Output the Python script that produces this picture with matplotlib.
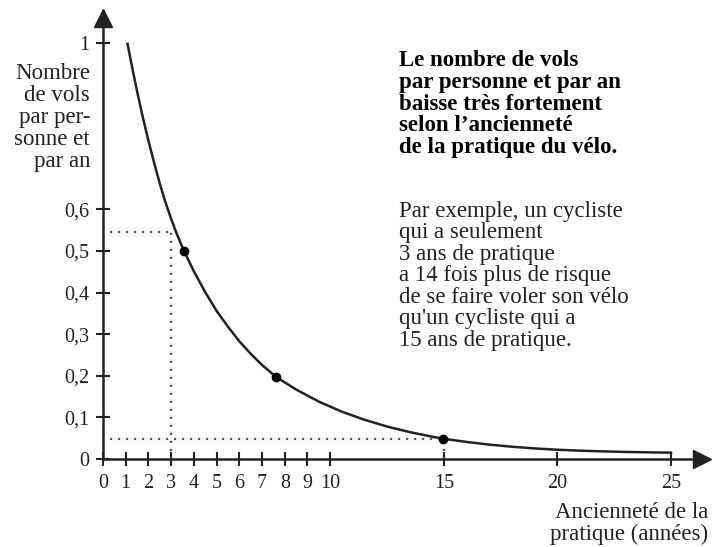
import matplotlib
matplotlib.use("Agg")
import matplotlib.pyplot as plt

plt.rcParams['font.family'] = ['Liberation Serif', 'DejaVu Serif']

# courbe (ancienneté en années, vols par personne et par an)
annees = [1.08, 1.25, 1.5, 1.75, 2.0, 2.25, 2.5, 2.75, 3.0, 3.25, 3.54, 4.0, 4.5, 5.0,
          5.5, 6.0, 6.5, 7.0, 7.6, 8.5, 9.5, 10.5, 11.5, 12.5, 13.5, 14.5, 15.0,
          16.0, 17.0, 18.0, 19.0, 20.0, 21.0, 22.0, 23.0, 24.0, 25.0]
vols = [0.998, 0.950, 0.884, 0.822, 0.765, 0.712, 0.662, 0.617, 0.577, 0.541, 0.503, 0.451, 0.401, 0.356,
        0.318, 0.283, 0.253, 0.226, 0.198, 0.167, 0.138, 0.114, 0.0945, 0.078, 0.0647, 0.0535, 0.0486,
        0.041, 0.0346, 0.0295, 0.0254, 0.0223, 0.020, 0.0183, 0.0170, 0.0160, 0.0152]

# points marqués
pts_x = [3.55, 7.6, 14.95]
pts_y = [0.50, 0.198, 0.047]

# repères en pointillé
repere_x = [3, 15]
repere_y = [0.545, 0.048]

xticks = [0, 1, 2, 3, 4, 5, 6, 7, 8, 9, 10, 15, 20, 25]
yticks = [0, 0.1, 0.2, 0.3, 0.4, 0.5, 0.6, 1]
ytick_labels = ['0', '0,1', '0,2', '0,3', '0,4', '0,5', '0,6', '1']

fig = plt.figure(figsize=(7.15, 5.47), dpi=100)
# origine à (103, 459) px, 22.72 px par année, 416 px par unité de vols
ax = fig.add_axes([103 / 715, 88 / 547, 599 / 715, 441 / 547])
ax.set_xlim(0, 599 / 22.72)
ax.set_ylim(0, 441 / 416)

ink = '#222222'

for rx, ry in zip(repere_x, repere_y):
    ax.plot([0.3, rx], [ry, ry], linestyle=(0, (1, 2.6)), color='#555555', lw=1.6)
    ax.plot([rx, rx], [0, ry], linestyle=(0, (1, 2.6)), color='#555555', lw=1.6)

ax.plot(annees, vols, color=ink, lw=1.8, solid_joinstyle='round')
ax.plot(pts_x, pts_y, 'o', color='black', ms=6)

# axes avec flèches
for s in ['top', 'right']:
    ax.spines[s].set_visible(False)
for s in ['left', 'bottom']:
    ax.spines[s].set_linewidth(1.8)
    ax.spines[s].set_color(ink)
ax.plot(1, 0, '>', color=ink, ms=13, transform=ax.transAxes, clip_on=False)
ax.plot(0, 1, '^', color=ink, ms=13, transform=ax.transAxes, clip_on=False)

ax.set_xticks(xticks)
ax.set_xticklabels([str(t) for t in xticks])
ax.set_yticks(yticks)
ax.set_yticklabels(ytick_labels)
ax.tick_params(direction='inout', length=10, width=1.5, color=ink,
               labelsize=14.5, labelcolor=ink)
ax.tick_params(axis='x', pad=6)
ax.tick_params(axis='y', pad=5)

fig.text(90 / 715, 1 - 63 / 547, "Nombre\nde vols\npar per-\nsonne et\npar an",
         ha='right', va='top', fontsize=16.5, color=ink, linespacing=1.07)

fig.text(708 / 715, 1 - 502 / 547, "Ancienneté de la\npratique (années)",
         ha='right', va='top', fontsize=16.5, color=ink, linespacing=1.02)

fig.text(399 / 715, 1 - 50 / 547,
         "Le nombre de vols\npar personne et par an\nbaisse très fortement\n"
         "selon l’ancienneté\nde la pratique du vélo.",
         ha='left', va='top', fontsize=16.5, fontweight='bold', color='black', linespacing=1.05)

fig.text(399 / 715, 1 - 201 / 547,
         "Par exemple, un cycliste\nqui a seulement\n3 ans de pratique\n"
         "a 14 fois plus de risque\nde se faire voler son vélo\nqu'un cycliste qui a\n"
         "15 ans de pratique.",
         ha='left', va='top', fontsize=16.5, color=ink, linespacing=1.03)

fig.savefig('out.png', dpi=100)
